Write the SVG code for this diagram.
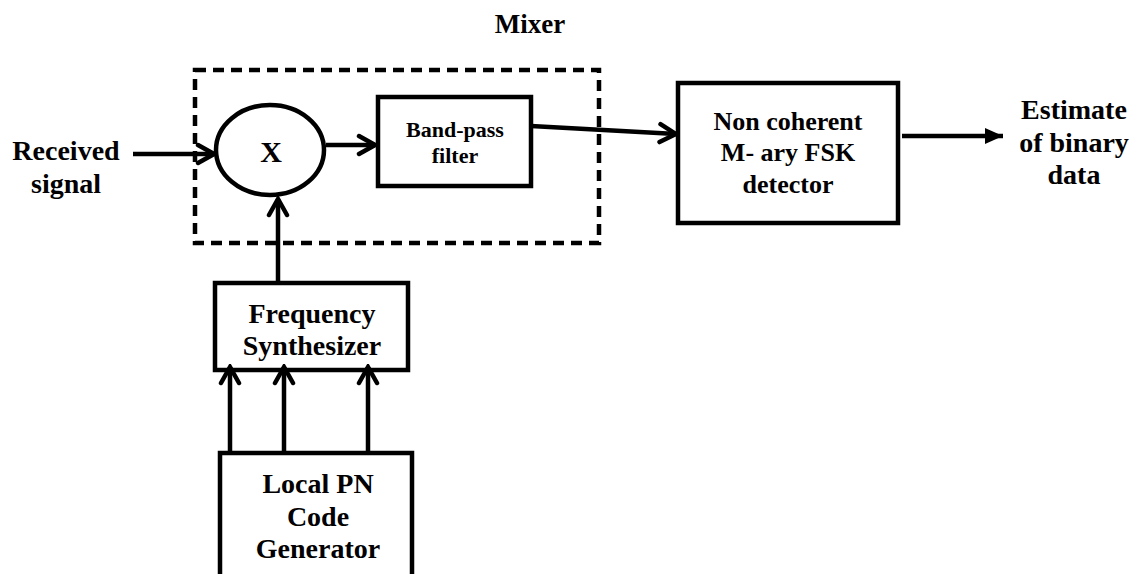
<svg xmlns="http://www.w3.org/2000/svg" width="1138" height="574" viewBox="0 0 1138 574">
<style>
.t{font-family:"Liberation Serif","Times New Roman",serif;font-weight:bold;fill:#000;text-anchor:middle}
.box{fill:#fff;stroke:#000;stroke-width:4.5}
.ln{fill:none;stroke:#000;stroke-width:4.5}
</style>
<defs>
<marker id="chev" viewBox="0 0 22 24" refX="19" refY="12" markerWidth="22" markerHeight="24" markerUnits="userSpaceOnUse" orient="auto">
<path d="M3,3 L19,12 L3,21" fill="none" stroke="#000" stroke-width="4.5" stroke-linejoin="miter" stroke-linecap="round"/>
</marker>
<marker id="tri" viewBox="0 0 18 18" refX="18" refY="9" markerWidth="18" markerHeight="18" markerUnits="userSpaceOnUse" orient="auto">
<path d="M0,1 L18,9 L0,17 Z" fill="#000"/>
</marker>
</defs>
<rect width="1138" height="574" fill="#fff"/>
<g id="mixer">
<rect x="195" y="70" width="404" height="173" fill="none" stroke="#000" stroke-width="4.5" stroke-dasharray="11,7"/>
<text class="t" x="530" y="33" font-size="27">Mixer</text>
</g>
<g id="multiplier">
<ellipse cx="270" cy="150" rx="54" ry="45" class="box"/>
<text class="t" x="271" y="162" font-size="30">X</text>
</g>
<g id="bandpass">
<rect x="378" y="97" width="153" height="89" class="box"/>
<text class="t" x="455" y="137" font-size="22">Band-pass</text>
<text class="t" x="455" y="163" font-size="22">filter</text>
</g>
<g id="detector">
<rect x="678" y="83" width="220" height="140" class="box"/>
<text class="t" x="788" y="130" font-size="26">Non coherent</text>
<text class="t" x="788" y="161" font-size="26">M- ary FSK</text>
<text class="t" x="788" y="193" font-size="26">detector</text>
</g>
<g id="synth">
<rect x="215" y="283" width="193" height="87" class="box"/>
<text class="t" x="312" y="323" font-size="28">Frequency</text>
<text class="t" x="312" y="355" font-size="28">Synthesizer</text>
</g>
<g id="pngen">
<rect x="220" y="453" width="192" height="130" class="box"/>
<text class="t" x="318" y="493" font-size="28">Local PN</text>
<text class="t" x="318" y="526" font-size="28">Code</text>
<text class="t" x="318" y="558" font-size="28">Generator</text>
</g>
<g id="input">
<text class="t" x="66" y="160" font-size="28">Received</text>
<text class="t" x="66" y="193" font-size="28">signal</text>
</g>
<g id="output">
<text class="t" x="1074" y="119" font-size="28">Estimate</text>
<text class="t" x="1074" y="152" font-size="28">of binary</text>
<text class="t" x="1074" y="184" font-size="28">data</text>
</g>
<g id="connectors">
<line x1="133" y1="154" x2="214" y2="154" class="ln" marker-end="url(#chev)"/>
<line x1="326" y1="145" x2="375" y2="145" class="ln" marker-end="url(#chev)"/>
<line x1="531" y1="126" x2="676" y2="134" class="ln" marker-end="url(#chev)"/>
<line x1="902" y1="136" x2="1003" y2="136" class="ln" marker-end="url(#tri)"/>
<line x1="278" y1="283" x2="278" y2="199" class="ln" marker-end="url(#chev)"/>
<line x1="230" y1="451" x2="230" y2="367" class="ln" marker-end="url(#chev)"/>
<line x1="284" y1="451" x2="284" y2="367" class="ln" marker-end="url(#chev)"/>
<line x1="368" y1="451" x2="368" y2="367" class="ln" marker-end="url(#chev)"/>
</g>
</svg>
